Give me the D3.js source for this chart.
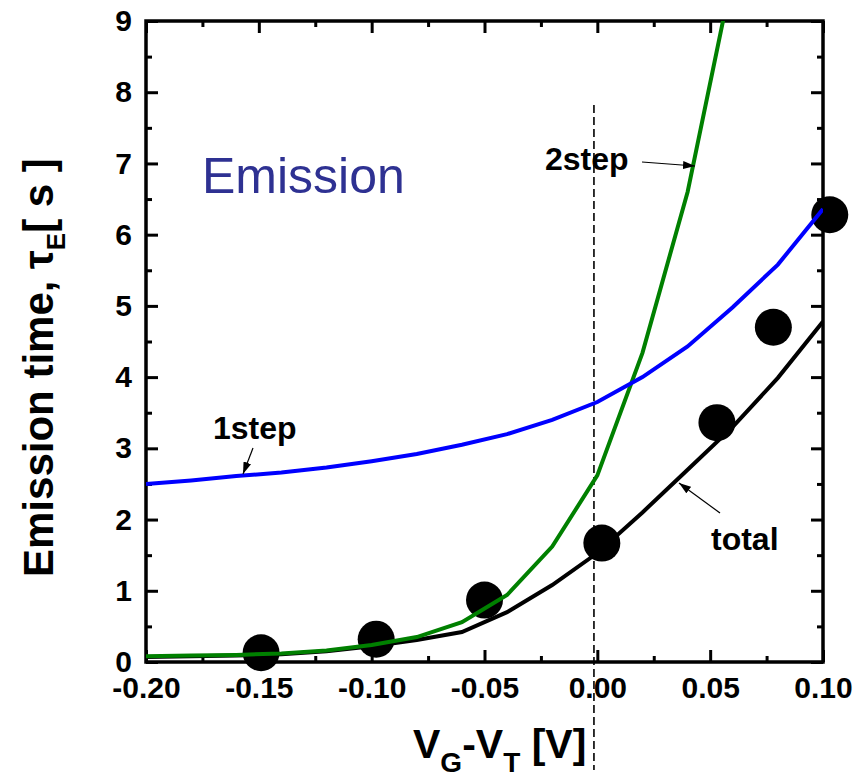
<!DOCTYPE html>
<html>
<head>
<meta charset="utf-8">
<script src="https://cdn.jsdelivr.net/npm/d3@7"></script>
<style>
  html, body { margin: 0; padding: 0; background: #fff; }
  svg { display: block; font-family: "Liberation Sans", Arial, sans-serif; }
</style>
</head>
<body>
<svg id="chart" width="868" height="779"></svg>
<script>
// Gate overdrive grid used by the model curves (V)
const vgModel = [-0.20, -0.18, -0.16, -0.14, -0.12, -0.10, -0.08, -0.06, -0.04, -0.02, 0.00, 0.02, 0.04, 0.06, 0.08, 0.10];
// One-step emission model (s)
const tauOneStep = [2.50, 2.55, 2.61, 2.66, 2.73, 2.82, 2.92, 3.05, 3.20, 3.40, 3.65, 4.00, 4.43, 4.98, 5.58, 6.36];
// Two-step emission model (s), ends once it leaves the plotted range
const vgTwoStep = [-0.20, -0.18, -0.16, -0.14, -0.12, -0.10, -0.08, -0.06, -0.04, -0.02, 0.00, 0.02, 0.04, 0.06];
const tauTwoStep = [0.08, 0.09, 0.10, 0.12, 0.16, 0.24, 0.35, 0.56, 0.94, 1.62, 2.62, 4.34, 6.60, 9.66];
// Combined (total) model (s)
const tauTotal = [0.07, 0.08, 0.09, 0.11, 0.15, 0.22, 0.31, 0.42, 0.70, 1.08, 1.53, 2.10, 2.70, 3.30, 3.99, 4.78];
// Measured emission times
const vgMeasured = [-0.149, -0.098, -0.050, 0.002, 0.053, 0.078, 0.103];
const tauMeasured = [0.13, 0.32, 0.87, 1.67, 3.36, 4.70, 6.28];
// Axis ticks
const xTicks = [-0.20, -0.15, -0.10, -0.05, 0.00, 0.05, 0.10];
const xMinorTicks = [-0.175, -0.125, -0.075, -0.025, 0.025, 0.075];
const yTicks = [0, 1, 2, 3, 4, 5, 6, 7, 8, 9];
const yMinorTicks = [0.5, 1.5, 2.5, 3.5, 4.5, 5.5, 6.5, 7.5, 8.5];
// Threshold marker position (V)
const thresholdVg = -0.0015;

const svg = d3.select("#chart");
const plotLeft = 146, plotRight = 823, plotTop = 21, plotBottom = 662;

const x = d3.scaleLinear().domain([-0.20, 0.10]).range([plotLeft, plotRight]);
const y = d3.scaleLinear().domain([0, 9]).range([plotBottom, plotTop]);

// Tick labels use a plain hyphen for negative values
const fmtX = v => d3.format(".2f")(v).replace("\u2212", "-");

const defs = svg.append("defs");
// Clip for model curves
defs.append("clipPath").attr("id", "plotClip")
  .append("rect").attr("x", plotLeft).attr("y", plotTop)
  .attr("width", plotRight - plotLeft).attr("height", plotBottom - plotTop);

// Arrowhead marker
defs.append("marker")
  .attr("id", "arrowHead").attr("viewBox", "0 0 12 8")
  .attr("refX", 12).attr("refY", 4)
  .attr("markerWidth", 12).attr("markerHeight", 8)
  .attr("markerUnits", "userSpaceOnUse")
  .attr("orient", "auto")
  .append("path").attr("d", "M0,0 L12,4 L0,8 Z").attr("fill", "#000");

// Axes: major ticks labelled, minor ticks unlabelled; all ticks point inward
function styleAxis(g) {
  g.select(".domain").remove();
  g.selectAll(".tick line").attr("stroke", "#000").attr("stroke-width", 3);
  g.selectAll(".tick text").attr("fill", "#000")
    .style("font-size", "30px").style("font-weight", "bold")
    .style("font-family", "'Liberation Sans', Arial, sans-serif");
}

svg.append("g").attr("transform", `translate(0,${plotBottom})`)
  .call(d3.axisBottom(x).tickValues(xTicks).tickFormat(fmtX).tickSizeInner(-12).tickSizeOuter(0).tickPadding(15))
  .call(styleAxis);
svg.append("g").attr("transform", `translate(0,${plotBottom})`)
  .call(d3.axisBottom(x).tickValues(xMinorTicks).tickFormat("").tickSizeInner(-6).tickSizeOuter(0))
  .call(styleAxis);
svg.append("g").attr("transform", `translate(0,${plotTop})`)
  .call(d3.axisTop(x).tickValues(xTicks).tickFormat("").tickSizeInner(-12).tickSizeOuter(0))
  .call(styleAxis);
svg.append("g").attr("transform", `translate(0,${plotTop})`)
  .call(d3.axisTop(x).tickValues(xMinorTicks).tickFormat("").tickSizeInner(-6).tickSizeOuter(0))
  .call(styleAxis);

svg.append("g").attr("transform", `translate(${plotLeft},0)`)
  .call(d3.axisLeft(y).tickValues(yTicks).tickFormat(d3.format("d")).tickSizeInner(-12).tickSizeOuter(0).tickPadding(14))
  .call(styleAxis);
svg.append("g").attr("transform", `translate(${plotLeft},0)`)
  .call(d3.axisLeft(y).tickValues(yMinorTicks).tickFormat("").tickSizeInner(-6).tickSizeOuter(0))
  .call(styleAxis);
svg.append("g").attr("transform", `translate(${plotRight},0)`)
  .call(d3.axisRight(y).tickValues(yTicks).tickFormat("").tickSizeInner(-12).tickSizeOuter(0))
  .call(styleAxis);
svg.append("g").attr("transform", `translate(${plotRight},0)`)
  .call(d3.axisRight(y).tickValues(yMinorTicks).tickFormat("").tickSizeInner(-6).tickSizeOuter(0))
  .call(styleAxis);

// Plot frame
svg.append("rect")
  .attr("x", plotLeft).attr("y", plotTop)
  .attr("width", plotRight - plotLeft).attr("height", plotBottom - plotTop)
  .attr("fill", "none").attr("stroke", "#000").attr("stroke-width", 3.5);

// Threshold (V_G = V_T) dashed line
svg.append("line")
  .attr("x1", x(thresholdVg)).attr("x2", x(thresholdVg))
  .attr("y1", 105).attr("y2", 770)
  .attr("stroke", "#000").attr("stroke-width", 1.6)
  .attr("stroke-dasharray", "8,4");

// Measured points
svg.append("g").selectAll("circle")
  .data(vgMeasured.map((v, i) => [v, tauMeasured[i]]))
  .join("circle")
  .attr("cx", d => x(d[0])).attr("cy", d => y(d[1]))
  .attr("r", 18.5).attr("fill", "#000");

// Model curves
const line = d3.line().x(d => x(d[0])).y(d => y(d[1]));
const curves = svg.append("g").attr("clip-path", "url(#plotClip)");
curves.append("path")
  .datum(vgModel.map((v, i) => [v, tauTotal[i]]))
  .attr("d", line).attr("fill", "none").attr("stroke", "#000").attr("stroke-width", 4);
curves.append("path")
  .datum(vgTwoStep.map((v, i) => [v, tauTwoStep[i]]))
  .attr("d", line).attr("fill", "none").attr("stroke", "#008000").attr("stroke-width", 4);
curves.append("path")
  .datum(vgModel.map((v, i) => [v, tauOneStep[i]]))
  .attr("d", line).attr("fill", "none").attr("stroke", "#0000ff").attr("stroke-width", 4);

// Curve annotations with arrows
const notes = [
  { text: "2step", tx: 545, ty: 170, from: [642, 162], to: [695, 166] },
  { text: "1step", tx: 213, ty: 439, from: [253, 448], to: [243, 474] },
  { text: "total", tx: 711, ty: 550, from: [720, 513], to: [679, 483] }
];
notes.forEach(n => {
  svg.append("text").attr("x", n.tx).attr("y", n.ty)
    .style("font-size", "32px").style("font-weight", "bold").attr("fill", "#000")
    .text(n.text);
  svg.append("line")
    .attr("x1", n.from[0]).attr("y1", n.from[1])
    .attr("x2", n.to[0]).attr("y2", n.to[1])
    .attr("stroke", "#000").attr("stroke-width", 1.2)
    .attr("marker-end", "url(#arrowHead)");
});

// Panel title
svg.append("text").attr("x", 202).attr("y", 193)
  .style("font-size", "50px").attr("fill", "#2e3192")
  .text("Emission");

// X axis title
const xt = svg.append("text").attr("x", 413).attr("y", 758)
  .style("font-size", "41px").style("font-weight", "bold").attr("fill", "#000");
xt.append("tspan").text("V");
xt.append("tspan").attr("dy", 14).style("font-size", "28px").text("G");
xt.append("tspan").attr("dy", -14).text("-V");
xt.append("tspan").attr("dy", 14).style("font-size", "28px").text("T");
xt.append("tspan").attr("dy", -14).text(" [V]");

// Y axis title
const yt = svg.append("text")
  .attr("transform", "translate(53,577) rotate(-90)")
  .style("font-size", "42px").style("font-weight", "bold").attr("fill", "#000");
yt.append("tspan").text("Emission time, \u03c4");
yt.append("tspan").attr("dy", 12).style("font-size", "26px").text("E");
yt.append("tspan").attr("dy", -12).text("[ s ]");
</script>
</body>
</html>
